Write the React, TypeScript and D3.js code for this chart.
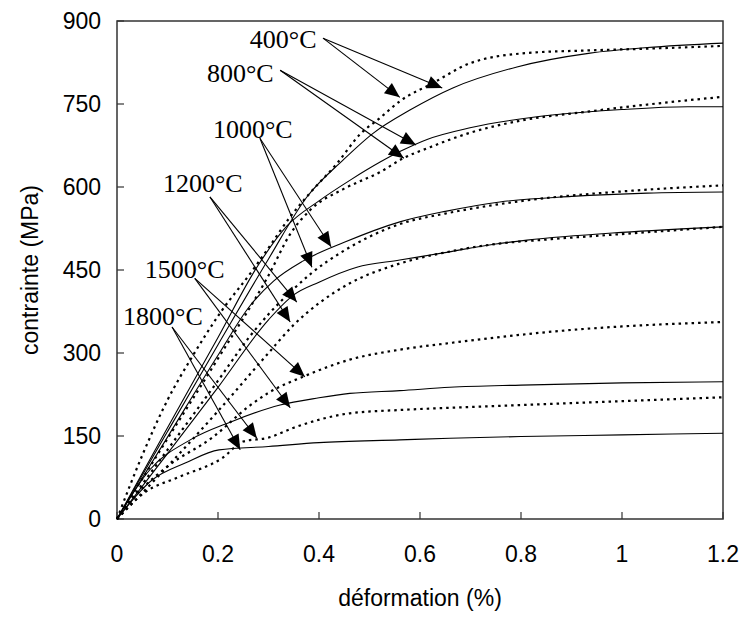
import React from "react";
import * as d3 from "d3";

type P = [number, number];

// x: déformation (%), y: contrainte (MPa)
const s400Solid: P[] = [[0,0],[0.1,158],[0.2,315],[0.3,470],[0.376,582],[0.448,649],[0.507,697],[0.58,739],[0.665,779],[0.792,817],[0.937,842],[1.05,852],[1.2,860]];
const s400Dot: P[] = [[0,0],[0.05,115],[0.1,215],[0.15,295],[0.204,372],[0.269,450],[0.297,486],[0.343,546],[0.382,589],[0.436,643],[0.481,695],[0.521,725],[0.56,755],[0.626,788],[0.7,824],[0.81,842],[0.94,847],[1.05,850],[1.2,855]];
const s800Solid: P[] = [[0,0],[0.1,165],[0.2,328],[0.277,455],[0.337,530],[0.4,575],[0.461,612],[0.521,645],[0.56,664],[0.614,686],[0.699,707],[0.824,726],[0.923,735],[1.0,740],[1.13,745],[1.2,745]];
const s800Dot: P[] = [[0,0],[0.1,145],[0.2,290],[0.3,440],[0.343,515],[0.382,558],[0.45,597],[0.521,627],[0.567,652],[0.62,672],[0.699,698],[0.8,720],[0.93,736],[1.05,749],[1.2,763]];
const s1000Solid: P[] = [[0,0],[0.1,148],[0.2,296],[0.263,385],[0.31,430],[0.368,466],[0.45,500],[0.56,537],[0.65,556],[0.758,573],[0.9,583],[1.05,589],[1.2,591]];
const s1000Dot: P[] = [[0,0],[0.1,125],[0.2,250],[0.263,330],[0.3,370],[0.349,415],[0.386,445],[0.448,484],[0.56,533],[0.65,552],[0.75,568],[0.85,580],[1.0,592],[1.2,603]];
const s1200Solid: P[] = [[0,0],[0.1,118],[0.2,238],[0.3,360],[0.35,405],[0.4,428],[0.475,455],[0.56,468],[0.646,481],[0.75,497],[0.812,504],[1.0,518],[1.2,528]];
const s1200Dot: P[] = [[0,0],[0.1,95],[0.2,195],[0.3,300],[0.349,350],[0.4,390],[0.461,426],[0.554,460],[0.646,481],[0.75,497],[0.85,505],[1.0,515],[1.2,528]];
const s1500Solid: P[] = [[0,0],[0.065,89],[0.145,143],[0.224,175],[0.323,206],[0.4,219],[0.461,227],[0.56,232],[0.659,238],[0.8,242],[1.0,246],[1.2,248]];
const s1500Dot: P[] = [[0,0],[0.05,55],[0.1,95],[0.19,148],[0.263,205],[0.3,228],[0.376,260],[0.461,288],[0.56,306],[0.659,318],[0.8,333],[0.891,341],[1.0,348],[1.2,356]];
const s1800Solid: P[] = [[0,0],[0.069,70],[0.135,101],[0.202,125],[0.3,131],[0.4,138],[0.56,143],[0.659,146],[0.8,149],[1.0,152],[1.2,155]];
const s1800Dot: P[] = [[0,0],[0.055,48],[0.123,76],[0.208,110],[0.25,140],[0.3,147],[0.35,165],[0.461,191],[0.56,197],[0.659,201],[0.8,206],[1.0,213],[1.2,220]];

const solidSeries = [s400Solid, s800Solid, s1000Solid, s1200Solid, s1500Solid, s1800Solid];
const dottedSeries = [s400Dot, s800Dot, s1000Dot, s1200Dot, s1500Dot, s1800Dot];

const xTicks = [0, 0.2, 0.4, 0.6, 0.8, 1, 1.2];
const yTicks = [0, 150, 300, 450, 600, 750, 900];

// Annotations: label text, label anchor (data), arrow start (data), arrow tips (data)
const labels = ["400°C", "800°C", "1000°C", "1200°C", "1500°C", "1800°C"];
const labelPos: P[] = [[0.263, 851], [0.178, 790], [0.19, 688], [0.091, 591], [0.055, 435], [0.012, 351]];
const arrowStart: P[] = [[0.408, 869], [0.323, 811], [0.283, 688], [0.184, 582], [0.154, 435], [0.109, 347]];
const arrowTips: P[][] = [
  [[0.56, 762], [0.644, 779]],
  [[0.592, 676], [0.568, 652]],
  [[0.424, 492], [0.386, 455]],
  [[0.356, 392], [0.343, 356]],
  [[0.372, 257], [0.343, 201]],
  [[0.277, 146], [0.244, 125]],
];

const W = 744, H = 619;
const M = { left: 117, right: 723, top: 21, bottom: 519 };

export default function App() {
  const x = d3.scaleLinear().domain([0, 1.2]).range([M.left, M.right]);
  const y = d3.scaleLinear().domain([0, 900]).range([M.bottom, M.top]);
  const line = d3.line<P>().x(d => x(d[0])).y(d => y(d[1])).curve(d3.curveMonotoneX);
  const sans = "'Liberation Sans', Arial, sans-serif";
  const serif = "'Liberation Serif', 'Times New Roman', serif";
  const axisColor = "#333";

  const arrowHead = (sx: number, sy: number, tx: number, ty: number) => {
    const dx = tx - sx, dy = ty - sy;
    const L = Math.hypot(dx, dy);
    const ux = dx / L, uy = dy / L;
    const len = 15, hw = 6.5;
    const bx = tx - ux * len, by = ty - uy * len;
    return `${tx},${ty} ${bx - uy * hw},${by + ux * hw} ${bx + uy * hw},${by - ux * hw}`;
  };

  return (
    <svg width={W} height={H} style={{ position: "absolute", left: 0, top: 0, background: "#fff" }}>
      <rect x={0} y={0} width={W} height={H} fill="#fff" />
      {/* frame */}
      <rect x={M.left} y={M.top} width={M.right - M.left} height={M.bottom - M.top} fill="none" stroke={axisColor} strokeWidth={1.5} />
      {/* ticks */}
      {yTicks.map(t => (
        <g key={"y" + t}>
          <line x1={M.left} x2={M.left + 7} y1={y(t)} y2={y(t)} stroke={axisColor} strokeWidth={1.2} />
          <text x={M.left - 16} y={y(t)} dy="0.35em" textAnchor="end" fontFamily={sans} fontSize={23} fill="#000">{t}</text>
        </g>
      ))}
      {xTicks.map(t => (
        <g key={"x" + t}>
          <line x1={x(t)} x2={x(t)} y1={M.bottom} y2={M.bottom - 7} stroke={axisColor} strokeWidth={1.2} />
          <text x={x(t)} y={562} textAnchor="middle" fontFamily={sans} fontSize={23} fill="#000">{t}</text>
        </g>
      ))}
      <text x={(M.left + M.right) / 2} y={606} textAnchor="middle" fontFamily={sans} fontSize={23} fill="#000">déformation (%)</text>
      <text transform={`translate(38,${(M.top + M.bottom) / 2}) rotate(-90)`} textAnchor="middle" fontFamily={sans} fontSize={23} fill="#000">contrainte (MPa)</text>

      {/* curves */}
      {solidSeries.map((s, i) => (
        <path key={"s" + i} d={line(s) || ""} fill="none" stroke="#000" strokeWidth={1.1} />
      ))}
      {dottedSeries.map((s, i) => (
        <path key={"d" + i} d={line(s) || ""} fill="none" stroke="#000" strokeWidth={2.2} strokeDasharray="2.5 4" />
      ))}

      {/* annotations */}
      {labels.map((lab, i) => {
        const sx = x(arrowStart[i][0]), sy = y(arrowStart[i][1]);
        return (
          <g key={"a" + i}>
            <text x={x(labelPos[i][0])} y={y(labelPos[i][1])} fontFamily={serif} fontSize={26} fill="#000">{lab}</text>
            {arrowTips[i].map((tp, j) => {
              const tx = x(tp[0]), ty = y(tp[1]);
              return (
                <g key={j}>
                  <line x1={sx} y1={sy} x2={tx} y2={ty} stroke="#000" strokeWidth={1.1} />
                  <polygon points={arrowHead(sx, sy, tx, ty)} fill="#000" />
                </g>
              );
            })}
          </g>
        );
      })}
    </svg>
  );
}
